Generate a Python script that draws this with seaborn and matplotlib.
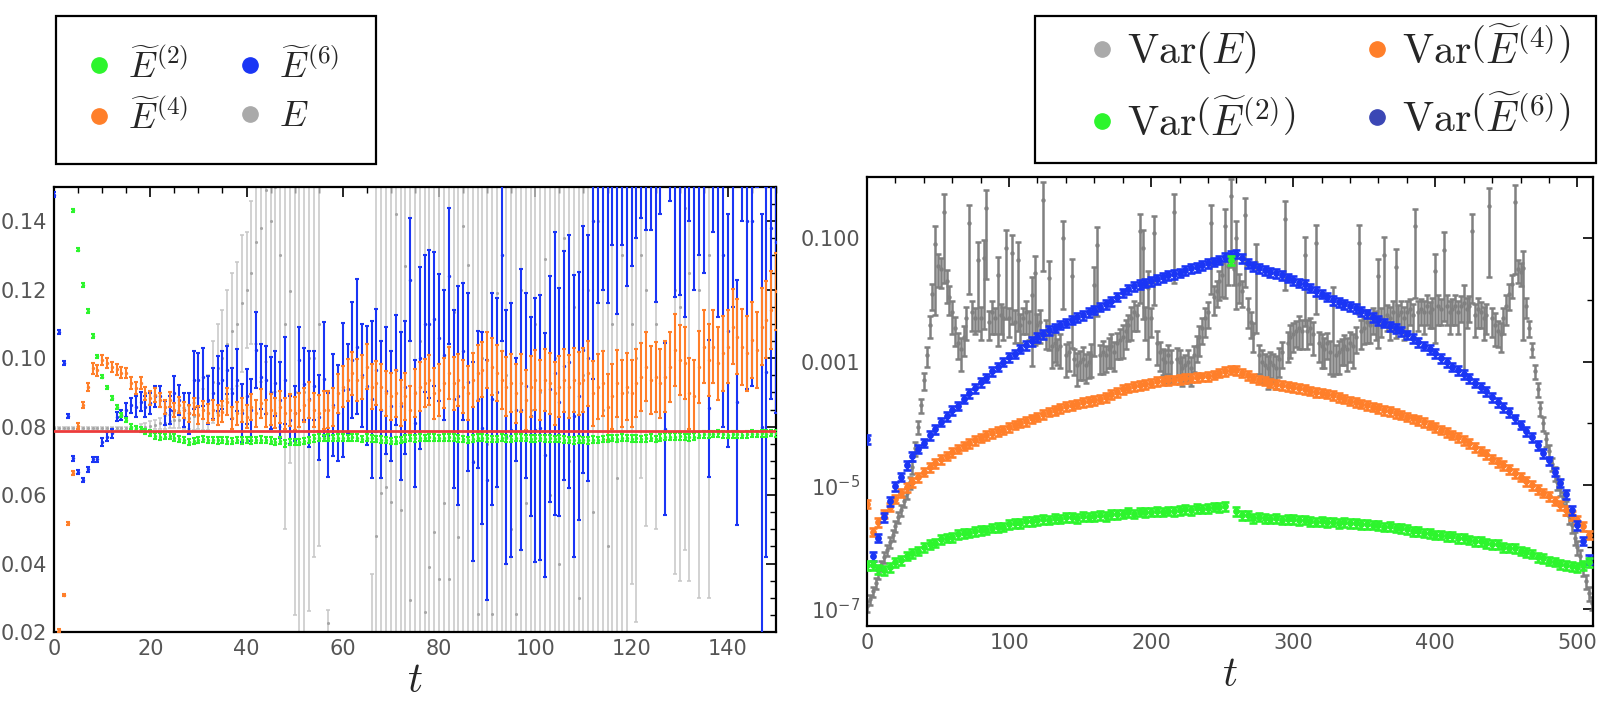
import numpy as np
import seaborn as sns
import matplotlib
matplotlib.use("Agg")
import matplotlib.pyplot as plt
from matplotlib.lines import Line2D
from matplotlib.patches import Rectangle
from matplotlib.ticker import MultipleLocator, FixedLocator, FixedFormatter, NullFormatter, FormatStrFormatter


def arr(s):
    return np.array(s.split(), dtype=float)


# ---------------- left panel: estimators vs t (t = 0..150) ----------------
t_left = np.arange(0, 151)

e2_val = arr("""
0.200 0.180 0.165 0.155 0.1432 0.1317 0.1214 0.1138 0.1065 0.1005
0.0946 0.0915 0.0883 0.0858 0.0834 0.0819 0.0800 0.0795 0.0792 0.0785
0.0781 0.0773 0.0771 0.0771 0.0774 0.0768 0.0764 0.0761 0.0756 0.0758
0.0761 0.0764 0.0760 0.0762 0.0760 0.0762 0.0759 0.0759 0.0762 0.0760
0.0762 0.0760 0.0762 0.0762 0.0760 0.0759 0.0756 0.0759 0.0751 0.0756
0.0755 0.0756 0.0758 0.0762 0.0766 0.0768 0.0767 0.0768 0.0766 0.0767
0.0768 0.0766 0.0769 0.0767 0.0765 0.0768 0.0766 0.0764 0.0762 0.0760
0.0758 0.0759 0.0762 0.0765 0.0767 0.0766 0.0768 0.0767 0.0769 0.0768
0.0766 0.0767 0.0769 0.0768 0.0766 0.0764 0.0762 0.0765 0.0767 0.0768
0.0766 0.0764 0.0765 0.0767 0.0766 0.0765 0.0767 0.0768 0.0766 0.0765
0.0766 0.0767 0.0765 0.0766 0.0764 0.0766 0.0762 0.0761 0.0760 0.0762
0.0761 0.0760 0.0762 0.0761 0.0764 0.0765 0.0766 0.0765 0.0767 0.0766
0.0765 0.0766 0.0764 0.0766 0.0767 0.0765 0.0768 0.0770 0.0771 0.0770
0.0772 0.0770 0.0769 0.0771 0.0776 0.0778 0.0777 0.0778 0.0780 0.0778
0.0776 0.0777 0.0778 0.0776 0.0777 0.0779 0.0778 0.0780 0.0779 0.0781 0.0780
""")
e2_err = arr("""
.0005 .0005 .0005 .0005 .0005 .0005 .0005 .0005 .0005 .0005
.0005 .0005 .0006 .0006 .0006 .0006 .0007 .0007 .0008 .0008
.0008 .0008 .0009 .0008 .0009 .0009 .0008 .0009 .0009 .0009
.0009 .0010 .0009 .0009 .0010 .0009 .0010 .0009 .0009 .0010
.0009 .0010 .0009 .0010 .0009 .0010 .0009 .0010 .0010 .0009
.0010 .0009 .0010 .0009 .0010 .0010 .0009 .0010 .0009 .0010
.0010 .0009 .0010 .0010 .0009 .0010 .0010 .0009 .0010 .0009
.0010 .0010 .0009 .0010 .0009 .0010 .0010 .0009 .0010 .0010
.0009 .0010 .0010 .0009 .0010 .0010 .0009 .0010 .0010 .0009
.0010 .0010 .0009 .0010 .0010 .0009 .0010 .0010 .0009 .0010
.0010 .0009 .0010 .0010 .0009 .0010 .0010 .0009 .0010 .0010
.0009 .0010 .0010 .0009 .0010 .0010 .0009 .0010 .0010 .0009
.0010 .0010 .0009 .0010 .0010 .0009 .0010 .0010 .0009 .0010
.0010 .0009 .0010 .0010 .0009 .0010 .0010 .0009 .0010 .0010
.0009 .0010 .0010 .0009 .0010 .0010 .0009 .0010 .0010 .0009 .0010
""")

e4_val = arr("""
0.0120 0.0205 0.0308 0.0517 0.0665 0.0802 0.0863 0.0915 0.0970 0.0964
0.0995 0.0985 0.0975 0.0968 0.0958 0.0956 0.0927 0.0912 0.0927 0.0897
0.0883 0.0893 0.0878 0.0858 0.0878 0.0849 0.0863 0.0849 0.0839 0.0858
0.0834 0.0849 0.0839 0.0849 0.0834 0.0844 0.0873 0.0824 0.0839 0.0849
0.0829 0.0858 0.0839 0.0868 0.0839 0.0849 0.0839 0.0858 0.0839 0.0849
0.0839 0.0849 0.0863 0.0878 0.0849 0.0839 0.0849 0.0849 0.0858 0.0897
0.0917 0.0936 0.0956 0.0936 0.0946 0.0975 0.0917 0.0927 0.0917 0.0897
0.0888 0.0897 0.0868 0.0888 0.0849 0.0897 0.0917 0.0927 0.0936 0.0897
0.0907 0.0927 0.0956 0.0927 0.0936 0.0917 0.0897 0.0936 0.0956 0.0966
0.0995 0.0975 0.0956 0.0936 0.0917 0.0927 0.0897 0.0927 0.0878 0.0917
0.0936 0.0907 0.0936 0.0927 0.0897 0.0917 0.0936 0.0917 0.0936 0.0927
0.0936 0.0956 0.0897 0.0917 0.0927 0.0858 0.0888 0.0927 0.0897 0.0917
0.0897 0.0927 0.0946 0.0975 0.0936 0.0946 0.0927 0.0946 0.0975 0.1024
0.0995 0.0985 0.0897 0.0888 0.0975 0.1034 0.0995 0.1034 0.0985 0.1014
0.1034 0.1092 0.1063 0.1034 0.1014 0.1053 0.1024 0.1092 0.1112 0.1141 0.1195
""")
e4_err = arr("""
.0004 .0004 .0004 .0005 .0005 .0008 .0010 .0012 .0015 .0015
.0015 .0015 .0015 .0016 .0016 .0015 .0017 .0018 .0018 .0019
.0020 .0020 .0021 .0020 .0022 .0020 .0023 .0024 .0025 .0025
.0025 .0027 .0028 .0030 .0029 .0031 .0040 .0032 .0034 .0035
.0034 .0038 .0040 .0042 .0040 .0045 .0044 .0046 .0045 .0047
.0048 .0050 .0049 .0052 .0050 .0053 .0055 .0054 .0056 .0058
.0060 .0062 .0063 .0061 .0064 .0066 .0065 .0064 .0067 .0066
.0068 .0069 .0067 .0070 .0071 .0070 .0072 .0071 .0073 .0074
.0075 .0074 .0076 .0077 .0076 .0078 .0079 .0080 .0081 .0080
.0082 .0083 .0082 .0084 .0085 .0084 .0086 .0085 .0087 .0088
.0088 .0089 .0090 .0089 .0091 .0090 .0092 .0091 .0093 .0092
.0094 .0095 .0094 .0096 .0095 .0097 .0096 .0098 .0097 .0099
.0098 .0100 .0099 .0101 .0100 .0102 .0101 .0103 .0102 .0104
.0103 .0105 .0104 .0106 .0105 .0107 .0106 .0108 .0107 .0109
.0108 .0110 .0109 .0111 .0110 .0112 .0111 .0113 .0112 .0114 .0113
""")

e6_val = arr("""
0.1478 0.1076 0.0985 0.0832 0.0707 0.0668 0.0644 0.0675 0.0704 0.0704
0.0756 0.0771 0.0781 0.0829 0.0834 0.0849 0.0863 0.0858 0.0873 0.0858
0.0868 0.0888 0.0888 0.0839 0.0849 0.0897 0.0878 0.0849 0.0839 0.0936
0.0936 0.0946 0.0878 0.0897 0.0927 0.0936 0.0966 0.0897 0.0936 0.0839
0.0888 0.0849 0.1024 0.0946 0.0936 0.0897 0.0927 0.0878 0.0936 0.0819
0.0839
0.0995 0.0925 0.0880 0.0920 0.0827 0.0940 0.0776 0.0863 0.0840 0.0907
0.0910 0.0995 0.1034 0.0950 0.0920 0.0880 0.0965 0.0850 0.0905 0.0860
0.0965 0.0860 0.0915 0.1229 0.0810 0.1000 0.1100 0.1100 0.1115 0.1060
0.1010 0.1240 0.0880 0.0890 0.1020 0.0930 0.0698 0.0880 0.0795 0.0644
0.0880 0.0900 0.1300 0.0770 0.0790 0.0850 0.0850 0.0920 0.0830 0.0790
0.0797 0.0717 0.0910 0.0956 0.0871 0.0978 0.0990 0.0832 0.0890 0.1025
0.1000 0.1400 0.1600 0.1650 0.1600 0.1800 0.1570 0.1800 0.1680 0.1750
0.1830 0.1900 0.1860 0.1860 0.1650 0.1900 0.0793 0.2000 0.1680 0.1680
0.1620 0.1900 0.1700 0.1800 0.1750 0.0854 0.1850 0.1600 0.1300 0.1080
0.1650 0.0871 0.1900 0.1400 0.1400 0.2000 0.0800 0.0960 0.1380 0.1340
""")
e6_err = arr("""
.0006 .0006 .0006 .0006 .0006 .0006 .0007 .0007 .0008 .0008
.0012 .0012 .0013 .0014 .0015 .0020 .0022 .0030 .0028 .0030
.0030 .0030 .0032 .0035 .0040 .0050 .0045 .0050 .0060 .0084
.0080 .0085 .0070 .0075 .0080 .0085 .0070 .0075 .0090 .0085
.0080 .0090 .0110 .0095 .0100 .0105 .0095 .0110 .0127 .0070
.0080
.0097 .0105 .0140 .0100 .0124 .0166 .0122 .0150 .0140 .0195
.0130 .0170 .0197 .0150 .0175 .0230 .0180 .0200 .0185 .0160
.0160 .0215 .0195 .0180 .0185 .0265 .0200 .0215 .0195 .0185
.0190 .0200 .0260 .0320 .0200 .0260 .0290 .0200 .0280 .0350
.0310 .0275 .0250 .0370 .0370 .0150 .0410 .0270 .0290 .0385
.0387 .0356 .0330 .0414 .0333 .0334 .0370 .0412 .0363 .0360
.0360 .0460 .0440 .0450 .0440 .0470 .0440 .0470 .0470 .0480
.0480 .0490 .0485 .0485 .0485 .0480 .0251 .0540 .0500 .0495
.0500 .0500 .0500 .0500 .0500 .0200 .0480 .0480 .0500 .0340
.0500 .0358 .0500 .0490 .0480 .0500 .0620 .0540 .0500 .0500
""")

e_val = arr("""
0.0795 0.0795 0.0795 0.0795 0.0795 0.0795 0.0795 0.0795 0.0795 0.0795
0.0795 0.0795 0.0795 0.0795 0.0795 0.0795 0.0795
0.0797 0.0799 0.0800 0.0803 0.0806 0.0810 0.0812 0.0815 0.0818 0.0820
0.0823 0.0826 0.0830 0.0838 0.0850 0.0870
0.093 0.097 0.100 0.104 0.108 0.110 0.116 0.120 0.125 0.134
0.138 0.149 0.140 0.150 0.130 0.110 0.1195 0.090
0.085 0.090 0.100 0.100 0.110 0.350 0.0225 0.400 0.380 0.420
0.360 0.400 0.370 0.410 0.390
0.010 0.048 0.0605 0.0625 0.058 0.142 0.0557 0.1268 0.0293 0.090
0.105 0.0259 0.039 0.0493 0.0356 0.0576 0.0356 0.1136 0.0478 0.1385
0.1273 0.070 0.0254 0.100 0.075 0.0254 0.119 0.160 0.095 0.050
0.0254 0.120 0.0576 0.085 0.110 0.090 0.129 0.060 0.100 0.040
0.135 0.070 0.115 0.030 0.095 0.120 0.055 0.140 0.085 0.045
0.110 0.065 0.130
0.090 0.110 0.100 0.130 0.120 0.300 0.110 0.300 0.300 0.300
0.120 0.115 0.144 0.125 0.300 0.120 0.300 0.130 0.300 0.300
0.300 0.300 0.300 0.300 0.300 0.300 0.300 0.300 0.300 0.300 0.300 0.300
""")
e_err = arr("""
.0003 .0003 .0003 .0003 .0003 .0003 .0003 .0003 .0003 .0003
.0003 .0003 .0004 .0004 .0004 .0005 .0005
.0006 .0008 .0010 .0012 .0014 .0016 .0018 .0020 .0022 .0025
.0030 .0034 .0040 .0045 .0060 .0080
.012 .013 .014 .016 .017 .018 .020 .017 .021 .030
.045 .050 .050 .060 .050 .060 .050 .065
.075 .080 .074 .058 .065 .100 .004 .100 .100 .100
.100 .100 .100 .100 .100
.027 .12 .13 .14 .13 .13 .12 .12 .13 .14
.12 .13 .13 .13 .14 .13 .13 .12 .13 .14
.13 .12 .13 .14 .13 .13 .13 .15 .14 .13
.13 .14 .13 .15 .14 .13 .14 .13 .14 .13
.14 .13 .14 .13 .14 .13 .13 .14 .13 .13
.14 .13 .14
.110 .076 .077 .065 .069 .050 .060 .050 .050 .050
.083 .080 .100 .090 .050 .090 .050 .100 .050 .050
.05 .05 .05 .05 .05 .05 .05 .05 .05 .05 .05 .05
""")

ref_level = 0.0788

# ---------------- right panel: variances vs t (log10 values) ----------------
t_r4 = np.arange(0, 512, 4)
t_r2 = np.arange(0, 512, 2)

var_e6_log = arr("""
-4.25 -6.15 -5.85 -5.52 -5.26 -5.02 -4.86 -4.68 -4.53 -4.41
-4.31 -4.19 -4.09 -3.97 -3.88 -3.78 -3.71 -3.60 -3.51 -3.43
-3.33 -3.26 -3.15 -3.08 -3.00 -2.93 -2.87 -2.79 -2.73 -2.67
-2.60 -2.55 -2.49 -2.45 -2.40 -2.37 -2.32 -2.28 -2.25 -2.20
-2.16 -2.11 -2.07 -2.02 -1.95 -1.88 -1.83 -1.78 -1.75 -1.72
-1.70 -1.66 -1.63 -1.60 -1.58 -1.56 -1.52 -1.49 -1.47 -1.44
-1.41 -1.38 -1.35 -1.30 -1.27 -1.25 -1.32 -1.40 -1.45 -1.49
-1.52 -1.55 -1.57 -1.60 -1.64 -1.68 -1.72 -1.75 -1.80 -1.86
-1.90 -1.95 -2.00 -2.04 -2.07 -2.10 -2.13 -2.18 -2.22 -2.28
-2.33 -2.37 -2.42 -2.46 -2.51 -2.56 -2.62 -2.68 -2.74 -2.80
-2.86 -2.94 -3.01 -3.08 -3.14 -3.20 -3.27 -3.34 -3.41 -3.48
-3.57 -3.66 -3.74 -3.82 -3.92 -4.02 -4.12 -4.22 -4.35 -4.48
-4.60 -4.78 -4.96 -5.15 -5.40 -5.65 -5.90 -6.20
""")
var_e4_log = arr("""
-5.30 -5.75 -5.60 -5.46 -5.35 -5.22 -5.12 -5.03 -4.95 -4.87
-4.78 -4.71 -4.64 -4.58 -4.52 -4.46 -4.41 -4.36 -4.32 -4.27
-4.23 -4.19 -4.16 -4.13 -4.10 -4.06 -4.02 -3.99 -3.96 -3.92
-3.89 -3.85 -3.81 -3.78 -3.75 -3.72 -3.70 -3.68 -3.66 -3.64
-3.62 -3.60 -3.57 -3.53 -3.49 -3.45 -3.42 -3.40 -3.38 -3.36
-3.34 -3.32 -3.31 -3.30 -3.29 -3.28 -3.27 -3.26 -3.25 -3.24
-3.23 -3.21 -3.18 -3.15 -3.13 -3.14 -3.18 -3.22 -3.26 -3.29
-3.31 -3.34 -3.36 -3.38 -3.40 -3.41 -3.43 -3.45 -3.47 -3.49
-3.50 -3.52 -3.54 -3.57 -3.60 -3.63 -3.66 -3.68 -3.70 -3.73
-3.75 -3.78 -3.80 -3.83 -3.86 -3.89 -3.92 -3.95 -3.98 -4.02
-4.06 -4.10 -4.14 -4.18 -4.22 -4.27 -4.32 -4.38 -4.44 -4.50
-4.57 -4.63 -4.68 -4.74 -4.80 -4.86 -4.93 -5.00 -5.06 -5.12
-5.18 -5.25 -5.32 -5.40 -5.48 -5.56 -5.66 -5.80
""")
var_e2_log = arr("""
-6.30 -6.30 -6.36 -6.38 -6.33 -6.25 -6.21 -6.14 -6.10 -6.06
-6.00 -5.95 -5.93 -5.87 -5.85 -5.84 -5.79 -5.78 -5.77 -5.74
-5.73 -5.72 -5.69 -5.68 -5.67 -5.63 -5.62 -5.61 -5.58 -5.58
-5.57 -5.55 -5.56 -5.53 -5.54 -5.52 -5.52 -5.53 -5.50 -5.51
-5.50 -5.49 -5.50 -5.47 -5.47 -5.46 -5.44 -5.46 -5.43 -5.44
-5.43 -5.42 -5.43 -5.41 -5.42 -5.40 -5.39 -5.40 -5.37 -5.38
-5.37 -5.35 -5.36 -5.34 -1.36 -5.42 -5.48 -5.49 -5.53 -5.51
-5.53 -5.54 -5.53 -5.56 -5.55 -5.55 -5.57 -5.56 -5.58 -5.59
-5.58 -5.60 -5.59 -5.61 -5.60 -5.62 -5.61 -5.63 -5.63 -5.64
-5.65 -5.67 -5.66 -5.69 -5.70 -5.71 -5.74 -5.74 -5.77 -5.78
-5.80 -5.80 -5.83 -5.83 -5.86 -5.86 -5.88 -5.91 -5.91 -5.94
-5.95 -5.96 -6.00 -6.01 -6.02 -6.06 -6.08 -6.11 -6.16 -6.18
-6.22 -6.24 -6.28 -6.30 -6.31 -6.33 -6.30 -6.25
""")
var_e_log = arr("""
-6.95 -6.85 -6.72 -6.58 -6.42 -6.30 -6.16 -6.05 -5.92 -5.80
-5.66 -5.52 -5.40 -5.26 -5.12 -4.95 -4.70 -4.40 -4.05 -3.70
-3.30 -2.90 -2.40 -1.90 -1.09 -1.45 -1.50 -0.57 -1.70 -1.95
-2.20 -2.45 -2.70 -2.80 -2.60 -2.30 -0.75 -2.20 -2.30 -1.35
-2.30 -1.32 -0.51 -2.35 -2.20 -2.30 -1.59 -2.25 -2.30 -1.16
-2.30 -1.24 -2.35 -1.35 -2.40 -2.30 -2.20 -2.35 -1.92 -1.57
-2.40 -2.35 -0.38 -2.50 -1.65 -2.75 -2.70 -2.80 -2.75 -1.00
-2.90 -2.85 -1.62 -2.95 -3.05 -3.00 -2.95 -3.05 -3.00 -2.90
-1.76 -1.11 -2.90 -2.85 -2.90 -2.80 -2.75 -2.85 -2.70 -2.65
-2.60 -2.50 -2.40 -2.30 -2.20 -2.25 -0.89 -1.16 -2.30 -1.81
-2.30 -0.92 -2.70 -2.85 -2.95 -3.00 -2.90 -3.00 -0.57 -2.95
-3.00 -3.10 -3.05 -3.00 -3.10 -2.90 -2.75 -2.60 -2.45 -2.30
-2.20 -0.75 -1.95 -1.85 -1.70 -1.60 -0.81 -1.45 -0.32 -1.50
-1.00 -1.75 -1.85 -0.63 -2.15 -2.35 -2.55 -1.38 -2.90 -3.00
-3.05 -3.10 -3.00 -3.05 -3.10 -2.95 -2.85 -0.69 -2.70 -2.60
-2.55 -2.50 -2.45 -2.50 -1.27 -2.50 -2.45 -2.55 -1.08 -2.70
-2.75 -2.80 -2.70 -2.85 -2.08 -2.90 -2.85 -2.80 -2.75 -2.80
-2.70 -2.75 -2.60 -1.08 -2.50 -2.45 -2.35 -2.40 -2.30 -2.35
-1.62 -2.30 -1.27 -2.25 -2.30 -2.20 -1.46 -2.25 -2.20 -2.30
-2.20 -2.15 -2.25 -0.81 -2.20 -2.15 -2.20 -2.10 -2.20 -2.15
-1.54 -2.10 -2.15 -1.19 -2.10 -2.20 -2.15 -2.10 -2.20 -2.10
-2.05 -2.15 -2.10 -0.89 -2.25 -2.15 -2.20 -2.30 -2.25 -0.48
-2.30 -2.40 -2.50 -2.55 -2.30 -2.10 -1.90 -1.75 -0.42 -1.50
-1.55 -1.49 -2.10 -2.45 -2.80 -3.15 -3.45 -3.75 -4.00 -4.25
-4.45 -4.65 -4.80 -4.95 -5.05 -5.20 -5.35 -5.50 -5.65 -5.85
-6.00 -6.15 -6.35 -6.55 -6.75 -6.90
""")
# relative error (err / value) of each Var(E) point
var_e_rel = arr("""
.20 .20 .20 .20 .20 .20 .20 .20 .20 .20
.20 .20 .20 .20 .20 .22 .25 .25 .25 .25
.30 .35 .40 .45 .93 .55 .50 .93 .55 .50
.55 .50 .45 .55 .50 .55 .93 .50 .45 .93
.55 .93 .93 .50 .55 .45 .93 .50 .55 .93
.50 .93 .55 .93 .50 .45 .55 .50 .93 .93
.50 .55 .93 .50 .93 .55 .50 .45 .55 .93
.55 .50 .93 .45 .55 .50 .55 .50 .45 .55
.93 .93 .50 .55 .45 .50 .55 .50 .45 .50
.55 .50 .45 .55 .50 .45 .93 .93 .55 .93
.50 .93 .55 .50 .45 .55 .50 .55 .93 .50
.55 .50 .45 .55 .50 .45 .45 .50 .45 .50
.45 .93 .50 .45 .50 .55 .93 .50 .93 .45
.93 .50 .45 .93 .50 .45 .50 .93 .50 .55
.50 .55 .45 .50 .55 .50 .45 .93 .50 .55
.50 .45 .55 .50 .93 .50 .45 .55 .93 .50
.55 .50 .45 .55 .93 .50 .55 .45 .50 .55
.50 .55 .45 .93 .50 .45 .55 .50 .45 .50
.93 .50 .93 .45 .55 .50 .93 .45 .50 .55
.50 .45 .55 .93 .50 .45 .55 .50 .45 .50
.93 .50 .45 .93 .50 .55 .45 .50 .55 .45
.93 .50 .45 .93 .55 .50 .45 .55 .50 .93
.50 .55 .45 .50 .45 .50 .45 .40 .93 .40
.40 .93 .35 .30 .25 .25 .25 .25 .25 .25
.25 .25 .25 .25 .25 .25 .25 .25 .25 .25
.25 .25 .25 .25 .25 .25
""")
band_rel = 0.16  # relative error of the three smooth variance bands

# ---------------- style ----------------
sns.set_style("white")
plt.rcParams["font.family"] = ["DejaVu Sans"]
plt.rcParams["mathtext.fontset"] = "cm"

GREEN = "#2df52d"
ORANGE = "#ff7f2a"
BLUE = "#1a35f5"
GRAY_L = "#c6c6c6"
GRAY_LP = "#a6a6a6"
GRAY_R = "#808080"
RED = "#ec3b3b"
TICKC = "#555555"

fig = plt.figure(figsize=(16.1, 7.14), dpi=100)
ax1 = fig.add_axes([54 / 1610, 82 / 714, 722 / 1610, 445 / 714])
ax2 = fig.add_axes([867 / 1610, 88 / 714, 726 / 1610, 449 / 714])


def draw(ax, t, v, e, col, ecol, lw, cap, s, z):
    ax.errorbar(t, v, yerr=e, fmt="none", ecolor=ecol, elinewidth=lw,
                capsize=cap, capthick=lw, zorder=z)
    sns.scatterplot(x=t, y=v, color=col, s=s, linewidth=0, ax=ax,
                    zorder=z + 0.1, legend=False)


# left panel
draw(ax1, t_left, e_val, e_err, GRAY_LP, GRAY_L, 1.1, 1.6, 5, 2)
draw(ax1, t_left, e6_val, e6_err, BLUE, BLUE, 1.5, 1.7, 6, 3)
draw(ax1, t_left, e4_val, e4_err, ORANGE, ORANGE, 1.5, 1.7, 6, 4)
draw(ax1, t_left, e2_val, e2_err, GREEN, GREEN, 1.5, 1.7, 6, 5)
ax1.axhline(ref_level, color=RED, lw=2.0, zorder=6)

ax1.set_xlim(0, 150)
ax1.set_ylim(0.02, 0.15)
ax1.xaxis.set_major_locator(MultipleLocator(20))
ax1.xaxis.set_minor_locator(MultipleLocator(5))
ax1.yaxis.set_major_locator(MultipleLocator(0.02))
ax1.yaxis.set_minor_locator(MultipleLocator(0.005))
ax1.yaxis.set_major_formatter(FormatStrFormatter("%.2f"))

# right panel
ax2.set_yscale("log")
v = 10 ** var_e_log
draw(ax2, t_r2, v, v * var_e_rel, GRAY_R, GRAY_R, 1.8, 2.0, 10, 2)
v = 10 ** var_e4_log
draw(ax2, t_r4, v, v * band_rel, ORANGE, ORANGE, 1.9, 2.6, 24, 3)
v = 10 ** var_e6_log
draw(ax2, t_r4, v, v * band_rel, BLUE, BLUE, 1.9, 2.6, 24, 4)
v = 10 ** var_e2_log
draw(ax2, t_r4, v, v * band_rel, GREEN, GREEN, 1.9, 2.6, 24, 5)

ax2.set_xlim(0, 511)
ax2.set_ylim(10 ** -7.28, 10 ** -0.01)
ax2.xaxis.set_major_locator(MultipleLocator(100))
ax2.xaxis.set_minor_locator(MultipleLocator(20))
ax2.yaxis.set_major_locator(FixedLocator([1e-7, 1e-5, 1e-3, 1e-1]))
ax2.yaxis.set_major_formatter(FixedFormatter([r"$\mathregular{10^{-7}}$",
                                              r"$\mathregular{10^{-5}}$",
                                              "0.001", "0.100"]))
ax2.yaxis.set_minor_locator(FixedLocator([1e-6, 1e-4, 1e-2]))
ax2.yaxis.set_minor_formatter(NullFormatter())

for ax in (ax1, ax2):
    for sp in ax.spines.values():
        sp.set_linewidth(1.6)
        sp.set_color("black")
    ax.tick_params(which="both", direction="in", top=True, right=True,
                   color="black", labelcolor=TICKC, labelsize=15)
    ax.tick_params(which="major", length=7, width=1.2, pad=5)
    ax.tick_params(which="minor", length=4, width=1.0)
    ax.set_xlabel("$t$", fontsize=30, labelpad=0)
    ax.xaxis.label.set_math_fontfamily("cm")
    for lab in ax.get_yticklabels() + ax.get_xticklabels():
        lab.set_math_fontfamily("dejavusans")


# legends: frameless legends inside drawn boxes
def dot(c):
    return Line2D([0], [0], ls="none", marker="o", markersize=11,
                  markerfacecolor=c, markeredgecolor=c)


W, H = 1610.0, 714.0
for (x0, y0, x1, y1) in [(56, 16, 376, 164), (1035, 16, 1596, 163)]:
    fig.add_artist(Rectangle((x0 / W, 1 - y1 / H), (x1 - x0) / W, (y1 - y0) / H,
                             transform=fig.transFigure, fill=False,
                             edgecolor="black", lw=1.6))

leg1 = fig.legend(
    [dot(GREEN), dot(ORANGE), dot(BLUE), dot("#aaaaaa")],
    [r"$\widetilde{E}^{(2)}$", r"$\widetilde{E}^{(4)}$",
     r"$\widetilde{E}^{(6)}$", r"$E$"],
    ncol=2, loc="center", bbox_to_anchor=(210 / W, 1 - 92 / H),
    borderaxespad=0, frameon=False, fontsize=26, handlelength=1.0,
    handletextpad=0.3, columnspacing=1.2, borderpad=0, labelspacing=0.4)

leg2 = fig.legend(
    [dot("#aaaaaa"), dot(GREEN), dot(ORANGE), dot("#3b47b5")],
    [r"$\mathrm{Var}(E)$", r"$\mathrm{Var}\left(\widetilde{E}^{(2)}\right)$",
     r"$\mathrm{Var}\left(\widetilde{E}^{(4)}\right)$",
     r"$\mathrm{Var}\left(\widetilde{E}^{(6)}\right)$"],
    ncol=2, loc="center", bbox_to_anchor=(1328 / W, 1 - 87 / H),
    borderaxespad=0, frameon=False, fontsize=30, handlelength=0.8,
    handletextpad=0.2, columnspacing=1.55, borderpad=0, labelspacing=0.6)

for leg in (leg1, leg2):
    for txt in leg.get_texts():
        txt.set_math_fontfamily("cm")

fig.savefig("out.png", dpi=100)
